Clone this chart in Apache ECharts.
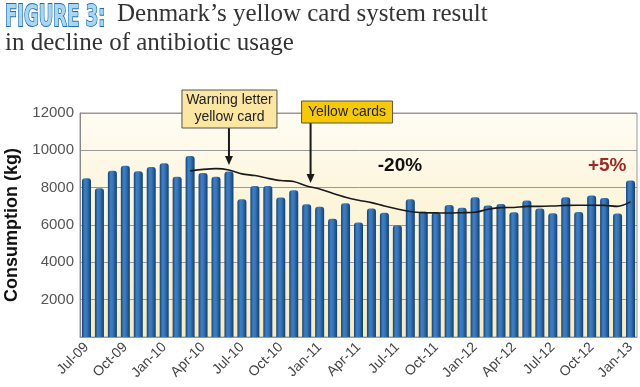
<!DOCTYPE html>
<html><head><meta charset="utf-8">
<script src="https://cdn.jsdelivr.net/npm/echarts@6/dist/echarts.min.js"></script>
<style>html,body{margin:0;padding:0;background:#fff}#c{width:640px;height:387px}</style>
</head><body><div id="c"></div>
<script>
const months = ['Jul-09','Aug-09','Sep-09','Oct-09','Nov-09','Dec-09',
 'Jan-10','Feb-10','Mar-10','Apr-10','May-10','Jun-10','Jul-10','Aug-10','Sep-10','Oct-10','Nov-10','Dec-10',
 'Jan-11','Feb-11','Mar-11','Apr-11','May-11','Jun-11','Jul-11','Aug-11','Sep-11','Oct-11','Nov-11','Dec-11',
 'Jan-12','Feb-12','Mar-12','Apr-12','May-12','Jun-12','Jul-12','Aug-12','Sep-12','Oct-12','Nov-12','Dec-12',
 'Jan-13'];
const consumption = [8500,7970,8900,9180,8880,9110,9310,8590,9700,8790,8590,8860,
 7380,8090,8090,7470,7860,7110,6980,6340,7170,6130,6880,6660,5990,7380,6720,6660,
 7075,6930,7490,7040,7130,6680,7310,6880,6630,7490,6700,7575,7450,6610,8380];
const trend = [null,null,null,null,null,null,null,null,8900,8980,9020,8950,
 8740,8650,8500,8380,8330,8090,7930,7700,7490,7330,7200,7020,6860,6720,6660,6650,
 6640,6660,6680,6840,6930,6940,7000,7000,7020,7050,7060,7060,7050,7000,7240];
const yTicks = [0,2000,4000,6000,8000,10000,12000];
const titleLine1 = 'Denmark\u2019s yellow card system result';
const titleLine2 = 'in decline of antibiotic usage';
const figLabel = 'FIGURE 3:';
const notes = [
  {text:'Warning letter\nyellow card', idx:11, tip:9220, fill:'#fbe6a2'},
  {text:'Yellow cards', idx:17.3, tip:8250, fill:'#f6c900'}
];
const pctLabels = [
  {text:'-20%', idx:24.2, y:9170, color:'#111'},
  {text:'+5%', idx:40.2, y:9170, color:'#9a2a22'}
];

const chart = echarts.init(document.getElementById('c'), null, {renderer:'canvas'});
const barGrad = new echarts.graphic.LinearGradient(0,0,1,0,[
  {offset:0,color:'#173f78'},{offset:0.3,color:'#3a80c6'},{offset:0.55,color:'#3377bd'},{offset:1,color:'#163d72'}]);
chart.setOption({
  animation:false,
  grid:{left:80,right:3,top:113,bottom:50,containLabel:false,outerBoundsMode:'none',
    show:true,borderColor:'#999',borderWidth:1,
    backgroundColor:new echarts.graphic.LinearGradient(0,0,0,1,[{offset:0,color:'#fffcf4'},{offset:1,color:'#f9ebb6'}])},
  xAxis:{type:'category',data:months,
    axisLine:{lineStyle:{color:'#999'}},axisTick:{show:false},
    axisLabel:{interval:2,rotate:45,fontFamily:'Liberation Sans',fontSize:14,color:'#444',margin:8}},
  yAxis:{type:'value',min:yTicks[0],max:yTicks[yTicks.length-1],interval:2000,
    name:'Consumption (kg)',nameLocation:'middle',nameGap:56,
    nameTextStyle:{fontFamily:'Liberation Sans',fontWeight:'bold',fontSize:18,color:'#111'},
    axisLine:{show:true,lineStyle:{color:'#888'}},
    splitLine:{lineStyle:{color:'#999',width:1}},
    axisLabel:{fontFamily:'Liberation Sans',fontSize:15,color:'#555',margin:6,
      formatter:v=>v===0?'':String(v)}},
  series:[
    {type:'bar',data:consumption,barWidth:9,itemStyle:{color:barGrad,borderRadius:[3,3,0,0]}},
    {type:'line',data:trend,symbol:'none',smooth:0.3,connectNulls:false,
      lineStyle:{color:'#1a1a1a',width:1.6},z:5}
  ]
});

function px(idx,val){
  const i0=Math.floor(idx), f=idx-i0;
  const a=chart.convertToPixel({gridIndex:0},[i0,val]);
  if(f===0) return a;
  const b=chart.convertToPixel({gridIndex:0},[i0+1,val]);
  return [a[0]+(b[0]-a[0])*f,a[1]];
}
const g=[];
g.push({type:'text',x:5,y:3,scaleY:1.5,style:{text:figLabel,font:'bold 20px "DejaVu Sans Condensed"',
  fill:'#a9d6f2',stroke:'#1b6db5',lineWidth:1.2}});
g.push({type:'text',x:117,y:2,style:{text:titleLine1,font:'25px "Liberation Serif"',fill:'#333'}});
g.push({type:'text',x:5,y:31,style:{text:titleLine2,font:'25px "Liberation Serif"',fill:'#333'}});
// annotations
const boxes=[{w:95,h:38,top:90,off:47},{w:91,h:22,top:101,off:9}];
notes.forEach((n,k)=>{
  const p=px(n.idx,n.tip), b=boxes[k];
  const left = p[0]-b.off;
  g.push({type:'line',shape:{x1:p[0],y1:b.top+b.h,x2:p[0],y2:p[1]-7},style:{stroke:'#1a1a1a',lineWidth:2},z:10});
  g.push({type:'polygon',shape:{points:[[p[0]-4,p[1]-9],[p[0]+4,p[1]-9],[p[0],p[1]]]},style:{fill:'#1a1a1a'},z:10});
  g.push({type:'rect',shape:{x:left,y:b.top,width:b.w,height:b.h},style:{fill:n.fill,stroke:'#555',lineWidth:1},z:11});
  g.push({type:'text',x:left+b.w/2,y:b.top+b.h/2,style:{text:n.text,font:'14px "Liberation Sans"',fill:'#222',
    align:'center',verticalAlign:'middle',lineHeight:17},z:12});
});
pctLabels.forEach(l=>{
  const p=px(l.idx,l.y);
  g.push({type:'text',x:p[0],y:p[1],style:{text:l.text,font:'bold 19px "Liberation Sans"',fill:l.color,
    align:'center',verticalAlign:'middle'},z:12});
});
chart.setOption({graphic:g});
</script></body></html>
